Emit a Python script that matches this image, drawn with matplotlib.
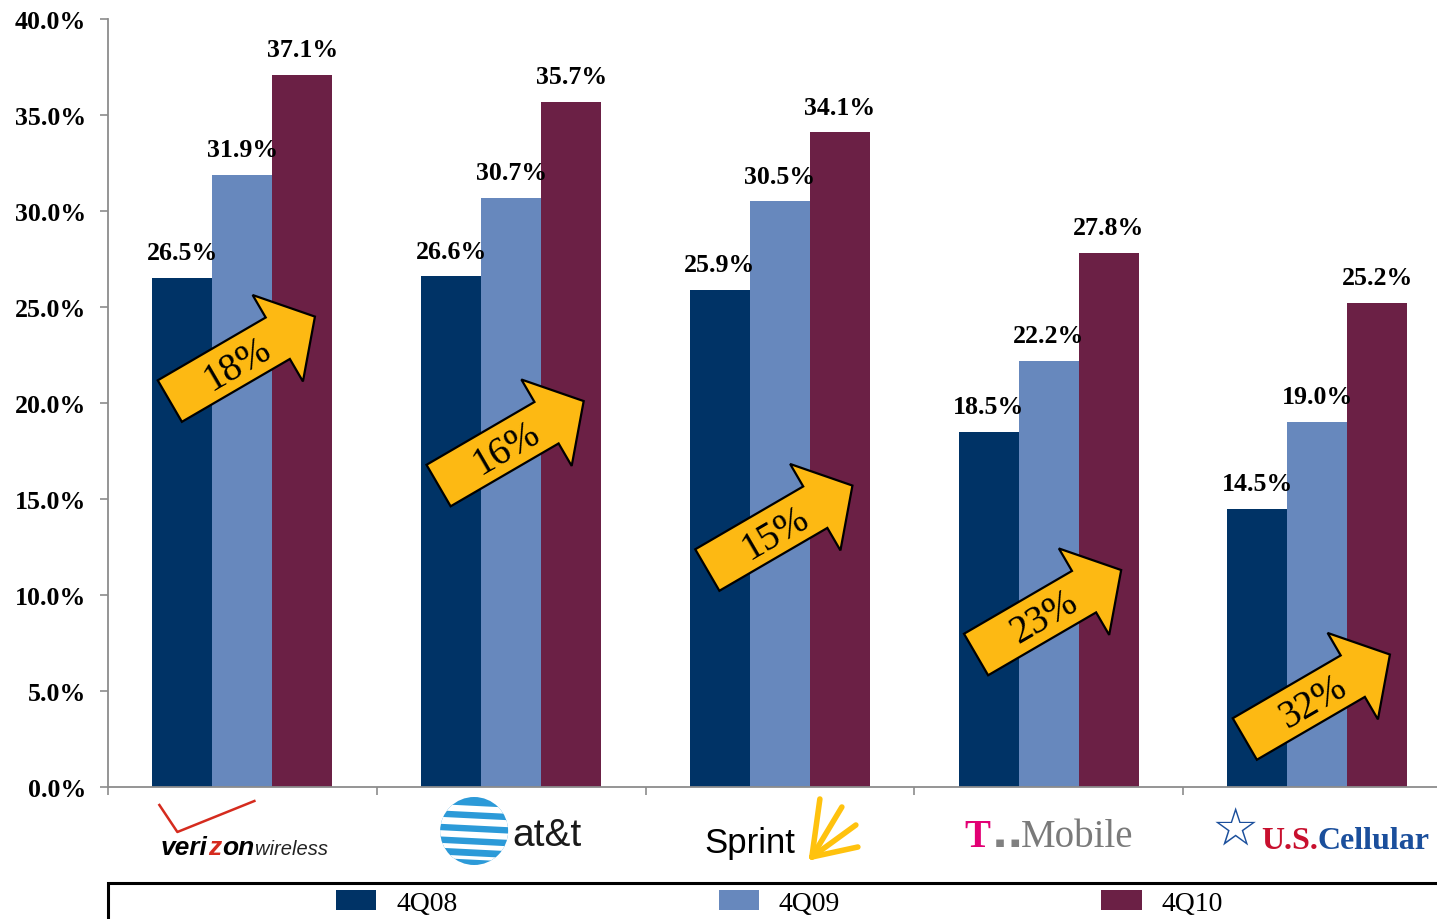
import numpy as np
import matplotlib
matplotlib.use('Agg')
import matplotlib.pyplot as plt
import matplotlib.transforms as mtransforms
from matplotlib.patches import Polygon, Rectangle, Circle, Patch
from matplotlib.lines import Line2D

# ---------------- data ----------------
carriers = ['Verizon Wireless', 'AT&T', 'Sprint', 'T-Mobile', 'U.S. Cellular']
series_names = ['4Q08', '4Q09', '4Q10']
v_4q08 = [26.5, 26.6, 25.9, 18.5, 14.5]
v_4q09 = [31.9, 30.7, 30.5, 22.2, 19.0]
v_4q10 = [37.1, 35.7, 34.1, 27.8, 25.2]
growth_labels = ['18%', '16%', '15%', '23%', '32%']
y_ticks = [0, 5, 10, 15, 20, 25, 30, 35, 40]
series_colors = ['#003366', '#6788BD', '#6B2045']

W, H = 1437, 920
SERIF = ['Liberation Serif', 'DejaVu Serif']
SANS = ['Liberation Sans', 'DejaVu Sans']
GRAY = '#8c8c8c'

fig = plt.figure(figsize=(W / 100, H / 100), dpi=100)
ax = fig.add_axes([108 / W, (H - 788) / H, 1343.75 / W, 768 / H])

x = np.arange(len(carriers))
bw = 60 / 268.75
all_vals = [v_4q08, v_4q09, v_4q10]
for k, (vals, col, name) in enumerate(zip(all_vals, series_colors, series_names)):
    xs = x + (k - 1) * bw
    ax.bar(xs, vals, bw, color=col, linewidth=0, label=name, zorder=2)
    for xi, v in zip(xs, vals):
        ax.annotate(f'{v:.1f}%', (xi, v), xytext=(0, 13.5), textcoords='offset points',
                    ha='center', va='baseline', fontsize=18.6, fontweight='bold',
                    family=SERIF, color='black', zorder=5)

ax.set_xlim(-0.5, len(carriers) - 0.5)
ax.set_ylim(0, 40)
ax.set_yticks(y_ticks)
ax.set_yticklabels([f'{t:.1f}%' for t in y_ticks], fontsize=18.6, fontweight='bold', family=SERIF)
ax.set_xticks(x)
ax.set_xticklabels([])
ax.set_xticks(np.arange(-0.5, len(carriers), 1), minor=True)
ax.tick_params(axis='x', which='major', length=0)
ax.tick_params(axis='x', which='minor', length=5.8, width=1.2, color=GRAY, direction='out')
ax.tick_params(axis='y', which='major', length=5.8, width=1.2, color=GRAY, direction='out', pad=10)
for s in ['top', 'right']:
    ax.spines[s].set_visible(False)
for s in ['left', 'bottom']:
    ax.spines[s].set_color(GRAY)
    ax.spines[s].set_linewidth(1.3)

ident = mtransforms.IdentityTransform()
renderer = fig.canvas.get_renderer()

# ---------------- growth arrows ----------------
shaft_hw, head_hw, head_len = 24, 50, 43
for i, lab in enumerate(growth_labels):
    tail_y = 20.1 - 4.4 * i
    p0 = ax.transData.transform((i - 0.27, tail_y))
    p1 = ax.transData.transform((i + 0.27, tail_y + 4.4))
    d = p1 - p0
    L = np.hypot(*d)
    u = d / L
    pv = np.array([-u[1], u[0]])
    loc = [(0, -shaft_hw), (L - head_len, -shaft_hw), (L - head_len, -head_hw), (L, 0),
           (L - head_len, head_hw), (L - head_len, shaft_hw), (0, shaft_hw)]
    pts = [p0 + a * u + b * pv for a, b in loc]
    fig.add_artist(Polygon(pts, closed=True, facecolor='#FDB913', edgecolor='black',
                           linewidth=1.6, transform=ident, zorder=6))
    c = p0 + 78 * u - 2 * pv
    ang = np.degrees(np.arctan2(u[1], u[0]))
    fig.text(c[0], c[1], lab, transform=ident, rotation=ang, rotation_mode='anchor',
             ha='center', va='center', fontsize=28, family=SERIF, color='black', zorder=7)

# ---------------- carrier logos (text approximations) ----------------
def pieces_text(cx, base_img, pieces, gap=0):
    arts, widths = [], []
    for s, kw in pieces:
        t = fig.text(0, 0, s, transform=ident, ha='left', va='baseline', **kw)
        widths.append(t.get_window_extent(renderer).width)
        arts.append(t)
    xx = cx - (sum(widths) + gap * (len(widths) - 1)) / 2
    for t, w in zip(arts, widths):
        t.set_position((xx, H - base_img))
        xx += w + gap
    return arts, widths

cxs = [ax.transData.transform((i, 0))[0] for i in x]

# Verizon Wireless
cx = cxs[0]
vz = dict(family=SANS, fontsize=19, fontweight='bold', fontstyle='italic')
pieces_text(cx + 2, 855, [('veri', dict(vz, color='black')),
                          ('z', dict(vz, color='#D52B1E')),
                          ('on', dict(vz, color='black')),
                          ('wireless', dict(family=SANS, fontsize=14.5, fontstyle='italic',
                                            color='#222222'))], gap=0.5)
fig.add_artist(Line2D([cx - 83, cx - 65, cx + 12], [H - 806, H - 833, H - 802], color='#D52B1E',
                      linewidth=1.8, transform=ident))

# AT&T
cx = cxs[1]
gc = (cx - 37, H - 832)
globe = Circle(gc, 34, facecolor='#2C9AD8', edgecolor='none', transform=ident)
fig.add_artist(globe)
for off, lw in [(-25, 2.5), (-14, 3.5), (-2, 4.5), (11, 5), (24, 4.5)]:
    ln = Line2D([gc[0] - 40, gc[0] + 40], [gc[1] + off, gc[1] + off - 4], color='white',
                linewidth=lw, transform=ident)
    ln.set_clip_path(globe)
    fig.add_artist(ln)
fig.text(cx + 1, H - 846, 'at&t', transform=ident, ha='left', va='baseline', family=SANS,
         fontsize=28, color='#1a1a1a')

# Sprint
cx = cxs[2]
pieces_text(cx - 30, 853, [('Sprint', dict(family=SANS, fontsize=25, color='black'))])
base = np.array([cx + 32, H - 858])
for ex, ey in [(40, 800), (62, 808), (76, 826), (78, 848)]:
    fig.add_artist(Line2D([base[0], cx + ex], [base[1], H - ey], color='#FFC20E',
                          linewidth=4, solid_capstyle='round', transform=ident))

# T-Mobile
cx = cxs[3]
tm = dict(family=SERIF, fontsize=28)
pieces_text(cx, 847, [('T', dict(tm, color='#E20074', fontweight='bold')),
                      (' \u25aa \u25aa', dict(family=['DejaVu Sans'], fontsize=11, color='#808080')),
                      ('Mobile', dict(tm, color='#7a7a7a'))])

# U.S. Cellular
cx = cxs[4]
fig.text(cx - 82, H - 830, '\u2606', transform=ident, ha='center', va='center',
         family=['DejaVu Sans'], fontsize=38, color='#1B4F9C', fontweight='bold')
us = dict(family=SERIF, fontsize=23, fontweight='bold')
pieces_text(cx + 28, 849, [('U.S.', dict(us, color='#C8102E')), ('Cellular', dict(us, color='#1B4F9C'))])

# ---------------- legend ----------------
fig.add_artist(Rectangle((108 / W, -0.1), 1.0, 0.1 + (H - 884) / H, transform=fig.transFigure,
                         facecolor='white', edgecolor='black', linewidth=2.2, zorder=1))
handles = [Patch(facecolor=c, edgecolor='none') for c in series_colors]
fig.legend(handles, series_names, loc='center left', bbox_to_anchor=(336 / W, (H - 904) / H),
           ncol=3, frameon=False, prop={'family': SERIF, 'size': 20},
           handlelength=1.45, handleheight=0.75, handletextpad=0.72, columnspacing=9.4,
           borderaxespad=0, borderpad=0)

fig.savefig('out.png', dpi=100)
